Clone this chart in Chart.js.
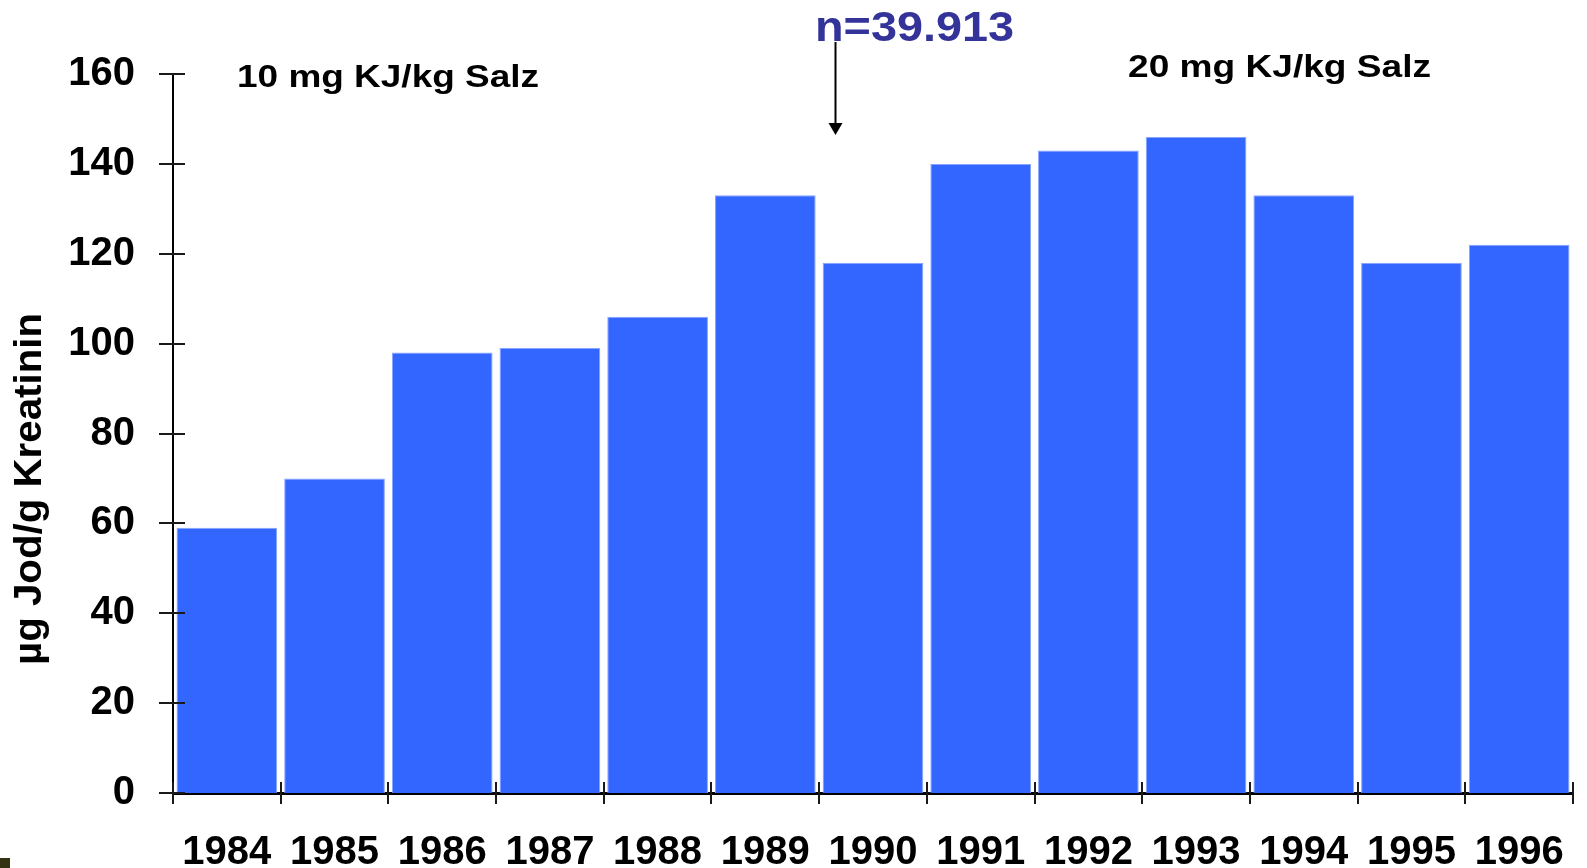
<!DOCTYPE html>
<html>
<head>
<meta charset="utf-8">
<script src="https://cdn.jsdelivr.net/npm/chart.js@4/dist/chart.umd.min.js"></script>
<style>
  html, body { margin: 0; padding: 0; background: #ffffff; overflow: hidden; }
  #wrap { position: relative; width: 1587px; height: 868px; }
  #corner { position: absolute; left: 0; top: 858px; width: 10px; height: 10px; background: #333311; }
</style>
</head>
<body>
<div id="wrap">
  <canvas id="c" width="1587" height="868"></canvas>
  <div id="corner"></div>
</div>
<script>
// Urinary iodine excretion per year
const years = ['1984', '1985', '1986', '1987', '1988', '1989', '1990', '1991', '1992', '1993', '1994', '1995', '1996'];
const iodine = [59, 70, 98, 99, 106, 133, 118, 140, 143, 146, 133, 118, 122];
const yTicks = [0, 20, 40, 60, 80, 100, 120, 140, 160];
const yTitle = 'µg Jod/g Kreatinin';
const doseBefore = '10 mg KJ/kg Salz';
const doseAfter = '20 mg KJ/kg Salz';
const sampleLabel = 'n=39.913';

const FONT = '"Liberation Sans", Arial, Helvetica, sans-serif';

// Draws bold text stretched horizontally to a given width
function wideText(ctx, text, x, y, size, color, width, align) {
  ctx.save();
  ctx.font = 'bold ' + size + 'px ' + FONT;
  ctx.fillStyle = color;
  ctx.textBaseline = 'alphabetic';
  ctx.textAlign = align || 'left';
  const natural = ctx.measureText(text).width;
  ctx.translate(x, y);
  ctx.scale(width / natural, 1);
  ctx.fillText(text, 0, 0);
  ctx.restore();
}

const decor = {
  id: 'decor',
  afterDraw(chart) {
    const { ctx, scales: { x, y } } = chart;
    ctx.save();
    ctx.strokeStyle = '#1a1a1a';
    ctx.lineWidth = 2;

    // tick marks on the value axis, crossing the axis line
    y.ticks.forEach(t => {
      const py = Math.round(y.getPixelForValue(t.value));
      ctx.beginPath();
      ctx.moveTo(x.left - 14, py);
      ctx.lineTo(x.left + 12, py);
      ctx.stroke();
    });

    // tick marks at category boundaries
    const n = years.length;
    const step = (x.right - x.left) / n;
    for (let i = 0; i <= n; i++) {
      const px = Math.round(x.left + i * step);
      ctx.beginPath();
      ctx.moveTo(px, y.bottom - 11);
      ctx.lineTo(px, y.bottom + 11);
      ctx.stroke();
    }

    // rotated axis title
    ctx.save();
    ctx.translate(41, 489);
    ctx.rotate(-Math.PI / 2);
    wideText(ctx, yTitle, 0, 0, 39, '#000000', 352, 'center');
    ctx.restore();

    // dosage notes
    wideText(ctx, doseBefore, 237, 87, 32, '#000000', 302);
    wideText(ctx, doseAfter, 1128, 77, 32, '#000000', 303);

    // sample size and arrow into the 1990 column
    wideText(ctx, sampleLabel, 815, 41, 42, '#333399', 199);
    const ax = Math.round(x.getPixelForValue(6) - step * 0.35) + 0.5;
    ctx.strokeStyle = '#000000';
    ctx.lineWidth = 2;
    ctx.beginPath();
    ctx.moveTo(ax, 42);
    ctx.lineTo(ax, 124);
    ctx.stroke();
    ctx.fillStyle = '#000000';
    ctx.beginPath();
    ctx.moveTo(ax - 7, 123);
    ctx.lineTo(ax + 7, 123);
    ctx.lineTo(ax, 135);
    ctx.closePath();
    ctx.fill();
    ctx.restore();
  }
};

new Chart(document.getElementById('c'), {
  type: 'bar',
  data: {
    labels: years,
    datasets: [{
      data: iodine,
      backgroundColor: '#3366ff',
      borderColor: '#88a4ff',
      borderWidth: 1,
      barPercentage: 0.935,
      categoryPercentage: 1.0
    }]
  },
  options: {
    responsive: false,
    animation: false,
    layout: { padding: { top: 74, right: 14, left: 0, bottom: 0 } },
    plugins: { legend: { display: false }, tooltip: { enabled: false } },
    scales: {
      x: {
        grid: { display: false, drawTicks: false },
        border: { display: true, color: '#000000', width: 3 },
        ticks: {
          color: '#000000',
          font: { family: FONT, size: 40, weight: 'bold' },
          padding: 36,
          maxRotation: 0,
          autoSkip: false
        },
        afterFit(s) { s.height = 75; s.paddingLeft = 0; s.paddingRight = 0; }
      },
      y: {
        min: 0,
        max: 160,
        grid: { display: false, drawTicks: false },
        border: { display: true, color: '#000000', width: 2 },
        afterBuildTicks(s) { s.ticks = yTicks.map(v => ({ value: v })); },
        ticks: {
          color: '#000000',
          font: { family: FONT, size: 40, weight: 'bold' },
          padding: 38
        },
        afterFit(s) { s.width = 173; }
      }
    }
  },
  plugins: [decor]
});
</script>
</body>
</html>
